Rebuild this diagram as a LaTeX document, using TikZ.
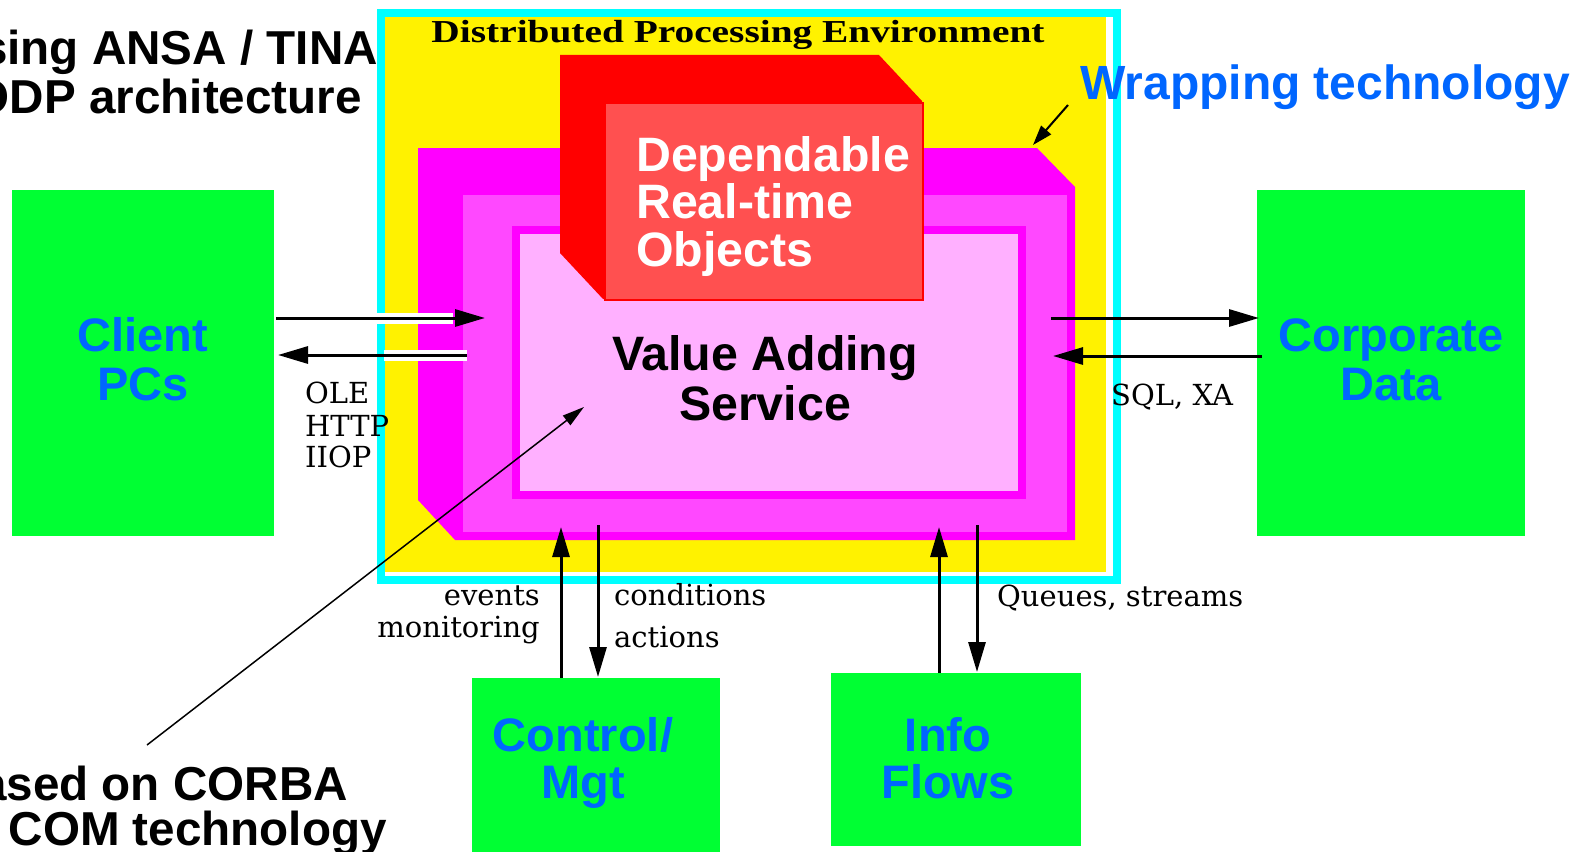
\documentclass[tikz,border=0pt]{standalone}
\usepackage{fontspec}
\setmainfont{DejaVu Serif}
\setsansfont{Liberation Sans}
\newfontfamily\timesfont{Liberation Serif}
\usetikzlibrary{arrows.meta}
\definecolor{cyanF}{HTML}{00FFFF}
\definecolor{yel}{HTML}{FFF200}
\definecolor{magD}{HTML}{FF00FF}
\definecolor{magM}{HTML}{FF48FF}
\definecolor{pinkL}{HTML}{FFB0FF}
\definecolor{redB}{HTML}{FF0000}
\definecolor{redF}{HTML}{FF5050}
\definecolor{grn}{HTML}{00FF33}
\definecolor{blu}{HTML}{0066FF}
\begin{document}
\begin{tikzpicture}[x=1pt,y=-1pt,
  lbl/.style={inner sep=0pt, font=\fontsize{29}{32}\selectfont},
  big/.style={inner sep=0pt, font=\sffamily\bfseries\fontsize{47}{48}\selectfont},
  bigger/.style={inner sep=0pt, font=\sffamily\bfseries\fontsize{48.3}{49}\selectfont},
  title/.style={inner sep=0pt, font=\sffamily\bfseries\fontsize{47.6}{48}\selectfont, anchor=base east},
  greenbox/.style={fill=grn, draw=none, inner sep=0pt, anchor=north west},
  flow/.style={line width=3pt, -{Triangle[length=30pt,width=17pt]}},
  pointer/.style={line width=1.5pt, -{Triangle[length=22pt,width=12pt]}},
  gap/.style={white, line width=11pt}]
\useasboundingbox (0,0) rectangle (1584,851);
\clip (0,0) rectangle (1584,851);
% environment frame
\fill[yel] (381,13) rectangle (1106,572);
\node[draw=cyanF, line width=8pt, inner sep=0pt, minimum width=736pt, minimum height=567pt, anchor=north west] (dpe) at (377,9) {};
\node[inner sep=0pt, anchor=base] (dpetitle) at (738,43) {\scalebox{1.23}[1]{\timesfont\bfseries\fontsize{32}{34}\selectfont Distributed Processing Environment}};
% wrapping layers
\fill[magD] (418,148) -- (1037,148) -- (1075,187) -- (1075,540) -- (455,540) -- (418,500) -- cycle;
\fill[magM] (463,195) rectangle (1067,532);
\node[fill=pinkL, draw=magD, line width=8pt, inner sep=0pt, minimum width=506pt, minimum height=265pt, anchor=north west] (vas) at (512,226) {};
\node[bigger, anchor=base] (vas1) at (765,370) {Value Adding};
\node[bigger, anchor=base] (vas2) at (765,420) {Service};
% dependable real-time objects
\fill[redB] (560,55) -- (879,55) -- (922,101) -- (922,299) -- (603,299) -- (560,253) -- cycle;
\node[fill=redF, draw=redB, line width=2pt, inner sep=0pt, minimum width=318pt, minimum height=197pt, anchor=north west] (dro) at (604,102) {};
\node[bigger, text=white, anchor=base west] (dro1) at (636,171) {Dependable};
\node[bigger, text=white, anchor=base west] (dro2) at (636,218) {Real-time};
\node[bigger, text=white, anchor=base west] (dro3) at (636,266) {Objects};
% green boxes
\node[greenbox, minimum width=262pt, minimum height=346pt] (client) at (12,190) {};
\node[greenbox, minimum width=268pt, minimum height=346pt] (corp) at (1257,190) {};
\node[greenbox, minimum width=248pt, minimum height=190pt] (ctrl) at (472,678) {};
\node[greenbox, minimum width=250pt, minimum height=173pt] (info) at (831,673) {};
\node[big, text=blu, anchor=base] (client1) at (143,351) {Client};
\node[big, text=blu, anchor=base] (client2) at (143,400) {PCs};
\node[big, text=blu, anchor=base] (corp1) at (1391,351) {Corporate};
\node[big, text=blu, anchor=base] (corp2) at (1391,400) {Data};
\node[big, text=blu, anchor=base] (ctrl1) at (583,751) {Control/};
\node[big, text=blu, anchor=base] (ctrl2) at (583,798) {Mgt};
\node[big, text=blu, anchor=base] (info1) at (948,751) {Info};
\node[big, text=blu, anchor=base] (info2) at (948,798) {Flows};
% client arrows
\coordinate (cA1) at (276,318); \coordinate (cA2) at (485,318);
\coordinate (cB1) at (467,355); \coordinate (cB2) at (278,355);
\coordinate (gA1) at (373,318); \coordinate (gA2) at (453,318);
\coordinate (gB1) at (384,355); \coordinate (gB2) at (467,355);
\draw[gap] (gA1) -- (gA2);
\draw[gap] (gB1) -- (gB2);
\draw[flow] (cA1) -- (cA2);
\draw[flow] (cB1) -- (cB2);
\node[lbl, anchor=base west] (ole) at (305,403) {OLE};
\node[lbl, anchor=base west] (http) at (305,436) {HTTP};
\node[lbl, anchor=base west] (iiop) at (305,467) {IIOP};
% corporate arrows
\coordinate (dA1) at (1051,318); \coordinate (dA2) at (1259,318);
\coordinate (dB1) at (1262,356); \coordinate (dB2) at (1053,356);
\draw[flow] (dA1) -- (dA2);
\draw[flow] (dB1) -- (dB2);
\node[lbl, anchor=base west] (sql) at (1111,405) {SQL, XA};
% control arrows
\coordinate (eA1) at (561,678); \coordinate (eA2) at (561,527);
\coordinate (eB1) at (598,525); \coordinate (eB2) at (598,677);
\draw[flow] (eA1) -- (eA2);
\draw[flow] (eB1) -- (eB2);
\node[lbl, anchor=base east] (events) at (540,605) {events};
\node[lbl, anchor=base east] (monit) at (540,637) {monitoring};
\node[lbl, anchor=base west] (cond) at (614,605) {conditions};
\node[lbl, anchor=base west] (actions) at (614,647) {actions};
% info arrows
\coordinate (fA1) at (939,673); \coordinate (fA2) at (939,527);
\coordinate (fB1) at (977,525); \coordinate (fB2) at (977,672);
\draw[flow] (fA1) -- (fA2);
\draw[flow] (fB1) -- (fB2);
\node[lbl, anchor=base west] (queues) at (997,606) {Queues, streams};
% wrapping technology
\node[inner sep=0pt, font=\sffamily\bfseries\fontsize{48}{50}\selectfont, text=blu, anchor=base west] (wrap) at (1080,99) {Wrapping technology};
\coordinate (wT) at (1068,105); \coordinate (wH) at (1033,145);
\draw[line width=2pt, -{Triangle[length=20pt,width=13pt]}] (wT) -- (wH);
% side titles
\node[title] (t1) at (378,65) {sing ANSA / TINA};
\node[title] (t2) at (362,113) {ODP architecture};
\node[title] (t3) at (348,800) {ased on CORBA};
\node[title] (t4) at (387,845) {COM technology};
\coordinate (corbaEnd) at (147,745); \coordinate (vasPt) at (584,407);
\draw[pointer] (corbaEnd) -- (vasPt);
\end{tikzpicture}
\end{document}
